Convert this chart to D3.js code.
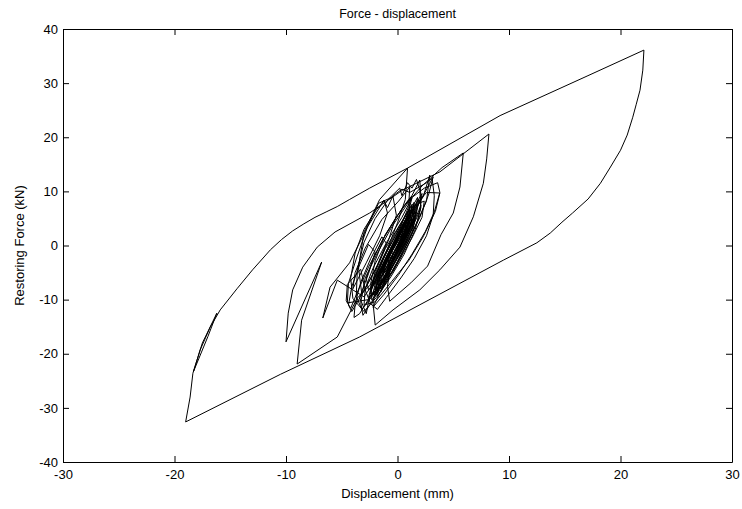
<!DOCTYPE html>
<html>
<head>
<meta charset="utf-8">
<script src="https://cdn.jsdelivr.net/npm/d3@7"></script>
<style>
    body { margin: 0; background: #fff; }
    svg text { font-family: "Liberation Sans", Arial, sans-serif; }
    .trace { fill: none; stroke: #000; stroke-width: 1; }
</style>
</head>
<body>
<svg id="svg1" width="742" height="509"></svg>
<script>
// tick labels
var xTicks = [-30, -20, -10, 0, 10, 20, 30];
var yTicks = [-40, -30, -20, -10, 0, 10, 20, 30, 40];

// [displacement (mm), force (kN)], in drawing order
var smallCycles = [
    [0, 0], [0.2, 0.9], [0.5, 2.1], [0.4, 0.6], [-0.1, -1.2], [-0.4, -2.6], [-0.5, -1.0], [-0.1, 0.9],
    [0.6, 3.4], [0.8, 4.4], [0.6, 2.2], [0.0, -0.9], [-0.7, -3.9], [-0.9, -4.9], [-0.8, -2.6], [-0.2, 0.6],
    [0.7, 3.9], [1.2, 5.8], [1.0, 3.1], [0.3, 0.0], [-0.5, -3.0], [-1.2, -6.2], [-1.3, -4.1], [-0.8, -1.5],
    [0.1, 2.1], [0.9, 5.4], [1.5, 7.6], [1.4, 5.0], [0.7, 1.5], [-0.4, -2.8], [-1.5, -7.3], [-1.8, -8.6],
    [-1.6, -5.7], [-0.9, -2.4], [0.2, 1.9], [1.2, 6.0], [1.9, 8.6], [1.7, 5.9], [0.9, 2.0], [-0.2, -2.2],
    [-1.3, -6.4], [-2.0, -9.3], [-1.9, -6.3], [-1.2, -3.0], [-0.1, 1.6], [1.0, 5.5], [1.6, 7.4], [1.4, 4.3],
    [0.6, 0.9], [-0.6, -3.8], [-1.6, -7.8], [-1.8, -8.9], [-1.5, -5.1], [-0.6, -1.2], [0.6, 3.5], [1.7, 7.9],
    [2.2, 9.6], [2.0, 6.4], [1.1, 2.3], [-0.1, -2.6], [-1.4, -7.1], [-2.3, -10.1]
];
var loopSix = [
    [-2.4, -7.0], [-2.0, -2.8], [-1.1, 2.0], [0.4, 6.8], [2.2, 11.0], [4.0, 14.4], [5.9, 17.1],
    [5.6, 10.8], [5.0, 6.0], [3.9, 2.0], [2.7, -3.8], [1.2, -6.9], [-0.7, -10.3]
];
var midCycles = [
    [-0.9, -7.5], [-0.6, -3.5], [0.3, 1.0], [1.6, 6.5], [2.9, 11.5], [3.2, 12.7], [2.8, 9.5], [2.0, 5.2],
    [0.9, 0.5], [-0.5, -4.8], [-1.8, -8.8], [-3.1, -12.9], [-3.3, -10.5], [-2.9, -6.0], [-1.9, -1.8],
    [-0.5, 3.5], [1.0, 8.0], [2.0, 12.1], [2.1, 9.0], [1.4, 4.5], [0.4, 0.0], [-0.8, -4.5], [-2.0, -8.4],
    [-2.6, -9.6], [-2.2, -6.4], [-1.2, -2.0], [0.1, 2.8], [1.4, 6.9], [2.6, 9.8], [3.8, 9.7], [3.4, 6.3],
    [2.3, 1.6], [1.0, -2.8], [-0.5, -6.6], [-2.0, -10.4], [-3.0, -11.0], [-2.9, -8.0], [-2.2, -4.2],
    [-1.0, 0.5], [0.4, 5.2], [1.3, 8.8], [0.9, 5.6], [0.1, 1.3], [-1.1, -3.1], [-2.5, -7.4], [-3.6, -9.7]
];
var loopEight = [
    [-5.4, -16.9], [-9.0, -21.9], [-8.6, -13.8], [-6.8, -3.05], [-10.0, -17.8],
    [-9.8, -12.5], [-9.4, -8.2], [-8.5, -4.0], [-7.2, -0.3], [-5.6, 2.5], [-2.5, 6.0], [0.5, 10.3],
    [2.9, 12.7], [3.8, 13.6], [8.2, 20.6],
    [8.0, 16.0], [7.7, 11.5], [6.8, 5.3], [5.6, -0.3], [3.8, -4.5], [2.0, -8.2], [-0.4, -11.9], [-2.0, -14.7]
];
var lateCycles = [
    [-2.2, -10.5], [-1.7, -5.5], [-0.6, -0.5], [0.9, 4.8], [2.3, 9.0], [2.9, 13.0], [2.6, 8.2], [1.6, 3.6],
    [0.3, -1.4], [-1.2, -6.3], [-2.6, -10.0], [-4.5, -10.6], [-4.4, -7.0], [-3.7, -2.5], [-2.7, 3.4],
    [-1.7, 7.8], [-0.4, 9.0], [-0.1, 5.6], [-0.8, 1.0], [-2.0, -4.6], [-3.2, -9.0],
    [-3.5, -4.0], [-3.0, 2.5], [-1.6, 8.5]
];
var bigLoop = [
    [0.9, 14.3], [9.2, 24.0], [17.0, 31.3], [22.1, 36.1],
    [22.0, 32.4], [21.75, 28.7], [21.4, 26.0], [21.1, 23.7], [20.6, 20.4], [20.0, 17.6], [19.1, 14.5],
    [18.2, 11.5], [17.1, 8.6], [15.7, 6.0], [14.75, 4.3], [13.7, 2.3], [12.5, 0.5], [9.5, -2.7],
    [6.5, -6.0], [-3.4, -16.9], [-10.5, -23.8], [-19.0, -32.6],
    [-18.6, -28.0], [-18.35, -23.6], [-17.5, -18.0], [-16.2, -12.5], [-17.0, -16.8], [-18.3, -23.3],
    [-17.7, -19.3], [-16.8, -15.1], [-15.9, -11.9], [-14.4, -8.0], [-13.0, -4.5], [-11.4, -0.8],
    [-10.4, 1.1], [-9.4, 2.7], [-8.4, 4.0], [-7.4, 5.2], [-6.4, 6.2], [-5.4, 7.2], [-4.3, 8.5],
    [-2.5, 10.6], [0.9, 14.3], [0.7, 8.5]
];
var coreCycles = [
    [0.0, 4.2], [-0.9, -0.6], [-1.8, -5.4], [-2.4, -8.6], [-2.1, -6.2], [-1.3, -2.6], [-0.2, 1.8], [0.8, 5.8],
    [1.5, 8.0], [1.3, 5.4], [0.5, 1.4], [-0.5, -3.2], [-1.4, -6.8], [-1.9, -8.0], [-1.7, -5.6], [-0.9, -1.8],
    [0.2, 2.8], [1.2, 6.6], [1.8, 8.9], [1.6, 5.8], [0.8, 2.0], [-0.3, -2.6], [-1.2, -6.2], [-1.6, -7.2],
    [-1.3, -4.4], [-0.5, -0.8], [0.5, 3.4], [1.1, 5.8], [0.9, 3.0], [0.1, -0.6], [-0.9, -4.8], [-1.5, -7.0],
    [-1.2, -4.0], [-0.4, -0.4], [0.7, 4.2], [1.4, 6.8], [1.2, 4.0], [0.3, 0.2], [-0.8, -4.2], [-1.7, -7.6],
    [-2.2, -9.0], [-1.9, -6.0], [-1.0, -2.0], [0.1, 2.2], [1.0, 5.6], [1.9, 7.8], [2.4, 8.2], [2.2, 5.2],
    [1.3, 1.4], [0.2, -2.6], [-0.9, -6.4], [-1.5, -8.6], [-1.1, -5.6], [-0.3, -2.0], [0.6, 2.0], [1.5, 5.4],
    [1.3, 3.2], [0.5, -0.4], [-0.4, -3.8], [-1.0, -5.8], [-0.7, -3.0], [0.0, 0.0], [0.8, 3.2], [1.0, 4.6],
    [0.6, 1.8], [-0.2, -1.8], [-1.1, -5.0], [-1.3, -4.6], [-0.6, -1.4], [0.3, 1.6], [0.9, 4.0], [0.6, 1.4]
];
var edgeCycles = [
    [-0.6, -3.6], [-1.9, -8.4], [-3.2, -11.8], [-3.7, -9.4], [-3.6, -4.4], [-3.0, 0.6], [-2.0, 5.0],
    [-0.8, 8.6], [0.2, 10.6], [0.4, 9.2], [0.9, 11.6], [1.3, 10.6], [1.7, 12.2], [2.0, 10.2], [2.1, 7.0],
    [1.6, 3.0], [0.6, -1.6], [-0.6, -5.8], [-1.9, -9.6], [-3.0, -12.2], [-4.0, -9.8], [-4.2, -6.0],
    [-3.8, -1.4], [-3.0, 3.0], [-1.9, 6.6], [-1.2, 8.2], [-0.9, 7.0], [-0.4, 9.2], [0.4, 10.4], [1.1, 9.8],
    [2.6, 11.6], [3.1, 12.4], [3.3, 9.2], [3.2, 5.6], [2.6, 1.8], [1.5, -2.4], [0.3, -6.0], [-1.0, -9.6],
    [-1.8, -11.8], [-2.4, -10.8], [-2.9, -8.2], [-3.3, -4.4], [-4.5, -7.2], [-4.6, -10.2], [-4.2, -11.6],
    [-3.6, -8.6], [-2.6, -4.0], [-1.4, 0.8], [-0.1, 5.2], [1.0, 8.4], [2.4, 10.6], [3.6, 11.6], [3.8, 9.8],
    [3.3, 6.2], [2.5, 2.6], [1.3, -1.6], [0.1, -5.4], [-1.2, -9.0], [-2.2, -11.4]
];
var denseCycles = [
    [-1.4, -8.0], [-0.6, -4.6], [0.4, -0.4], [1.3, 3.6], [1.9, 6.4], [2.1, 7.4], [1.8, 4.6], [1.0, 0.8],
    [-0.1, -3.4], [-1.1, -7.0], [-1.8, -9.4], [-1.9, -7.8], [-1.4, -4.6], [-0.6, -1.0], [0.4, 2.6],
    [1.2, 5.4], [1.7, 6.2], [1.4, 3.4], [0.6, -0.2], [-0.4, -3.6], [-1.4, -7.6], [-2.0, -8.4], [-1.6, -5.0],
    [-0.8, -2.2], [0.2, 1.4], [1.0, 4.4], [0.8, 2.2], [-0.1, -1.2], [-1.0, -4.6], [-1.8, -6.6], [-2.6, -8.2],
    [-2.8, -6.0], [-2.2, -2.6], [-1.3, 1.2], [-0.3, 4.6], [0.6, 7.4], [1.2, 9.0], [1.0, 6.4], [0.3, 2.6],
    [-0.6, -1.6], [-1.5, -5.2], [-2.3, -7.8], [-2.0, -5.2], [-1.1, -1.4], [-0.2, 2.2], [0.7, 5.6],
    [1.3, 7.6], [1.1, 4.8], [0.3, 1.0], [-0.7, -3.0], [-1.3, -5.4], [-0.9, -2.6], [-0.1, 0.6], [0.7, 3.8],
    [1.3, 5.0], [1.0, 2.4], [0.2, -1.0], [-0.6, -4.2], [-1.2, -6.6], [-0.8, -3.8], [0.0, -0.8], [0.9, 2.8],
    [1.6, 5.0], [1.3, 2.2], [0.4, -1.6], [-0.4, -4.8], [-0.9, -6.0], [-0.5, -2.8], [0.3, 0.6]
];
var tailCycles = [
    [-3.0, -9.5], [-5.4, -6.4], [-6.7, -13.4], [-6.05, -7.7],
    [-4.3, -3.2], [-2.7, 3.4], [-1.2, 8.4], [-0.9, 6.0], [-1.6, 1.8], [-2.8, -3.2], [-4.0, -8.0],
    [-3.8, -5.0], [-2.9, -0.5], [-1.4, 4.8], [0.1, 8.2], [1.1, 10.8], [1.0, 7.2], [0.2, 3.0], [-0.9, -2.0],
    [-2.1, -6.8], [-2.4, -8.0], [-2.0, -4.8], [-1.1, -0.6], [0.2, 3.8], [1.1, 6.6], [0.9, 3.6], [0.1, 0.3],
    [-0.8, -3.4], [-1.3, -5.2], [-1.0, -2.6], [-0.3, 0.3], [0.5, 3.0], [0.3, 1.2], [-0.2, -0.6]
];
var lowerCycles = [
    [-1.0, -4.0], [-2.2, -8.6], [-3.4, -12.6], [-3.9, -13.3], [-3.8, -10.8], [-3.3, -6.8], [-2.4, -2.4],
    [-1.4, 1.6], [-1.0, 0.4], [-1.8, -3.6], [-2.9, -8.0], [-4.1, -12.2], [-4.4, -11.0], [-4.1, -7.6],
    [-3.4, -3.6], [-2.6, 0.2], [-2.0, -1.2], [-2.6, -5.2], [-3.4, -9.6], [-2.8, -12.6], [-2.6, -10.4],
    [-2.2, -6.8], [-1.4, -3.0], [-0.6, 0.4]
];

var svg = d3.select("#svg1"),
    margin = { top: 29, right: 10, bottom: 47, left: 63 },
    width = +svg.attr("width") - margin.left - margin.right,
    height = +svg.attr("height") - margin.top - margin.bottom,
    g = svg.append("g").attr("transform", "translate(" + margin.left + "," + margin.top + ")");

var x = d3.scaleLinear().domain([-30, 30]).range([0, width]);
var y = d3.scaleLinear().domain([-40, 40]).range([height, 0]);

var trace = [].concat(smallCycles, loopSix, midCycles, loopEight, lateCycles,
                      bigLoop, coreCycles, edgeCycles, denseCycles, tailCycles, lowerCycles);

var line = d3.line()
    .x(function (d) { return x(d[0]); })
    .y(function (d) { return y(d[1]); });

g.append("path")
    .datum(trace)
    .attr("class", "trace")
    .attr("d", line);

// axes, MATLAB style: ticks inside on all four sides, plain hyphen minus
function style(sel) {
    sel.selectAll("text").attr("font-size", 13).attr("font-family", '"Liberation Sans", Arial, sans-serif').attr("fill", "#000");
    sel.selectAll("line").attr("stroke", "#000");
    sel.select(".domain").attr("stroke", "#000");
}
var plain = function (d) { return String(d); };

g.append("g")
    .attr("transform", "translate(0," + height + ")")
    .call(d3.axisBottom(x).tickValues(xTicks).tickFormat(plain).tickSizeInner(-6).tickSizeOuter(0).tickPadding(8))
    .call(style);

g.append("g")
    .call(d3.axisLeft(y).tickValues(yTicks).tickFormat(plain).tickSizeInner(-6).tickSizeOuter(0).tickPadding(5))
    .call(style);

g.append("g")
    .call(d3.axisTop(x).tickValues(xTicks).tickSizeInner(-6).tickSizeOuter(0).tickFormat(""))
    .call(style);

g.append("g")
    .attr("transform", "translate(" + width + ",0)")
    .call(d3.axisRight(y).tickValues(yTicks).tickSizeInner(-6).tickSizeOuter(0).tickFormat(""))
    .call(style);

// title and axis labels
svg.append("text")
    .attr("x", margin.left + width / 2)
    .attr("y", 18)
    .attr("text-anchor", "middle")
    .style("font-size", "12.5px")
    .text("Force - displacement");

svg.append("text")
    .attr("x", margin.left + width / 2)
    .attr("y", 498)
    .attr("text-anchor", "middle")
    .style("font-size", "13px")
    .text("Displacement (mm)");

svg.append("text")
    .attr("transform", "rotate(-90)")
    .attr("x", -(margin.top + height / 2))
    .attr("y", 24)
    .attr("text-anchor", "middle")
    .style("font-size", "13px")
    .text("Restoring Force (kN)");
</script>
</body>
</html>
